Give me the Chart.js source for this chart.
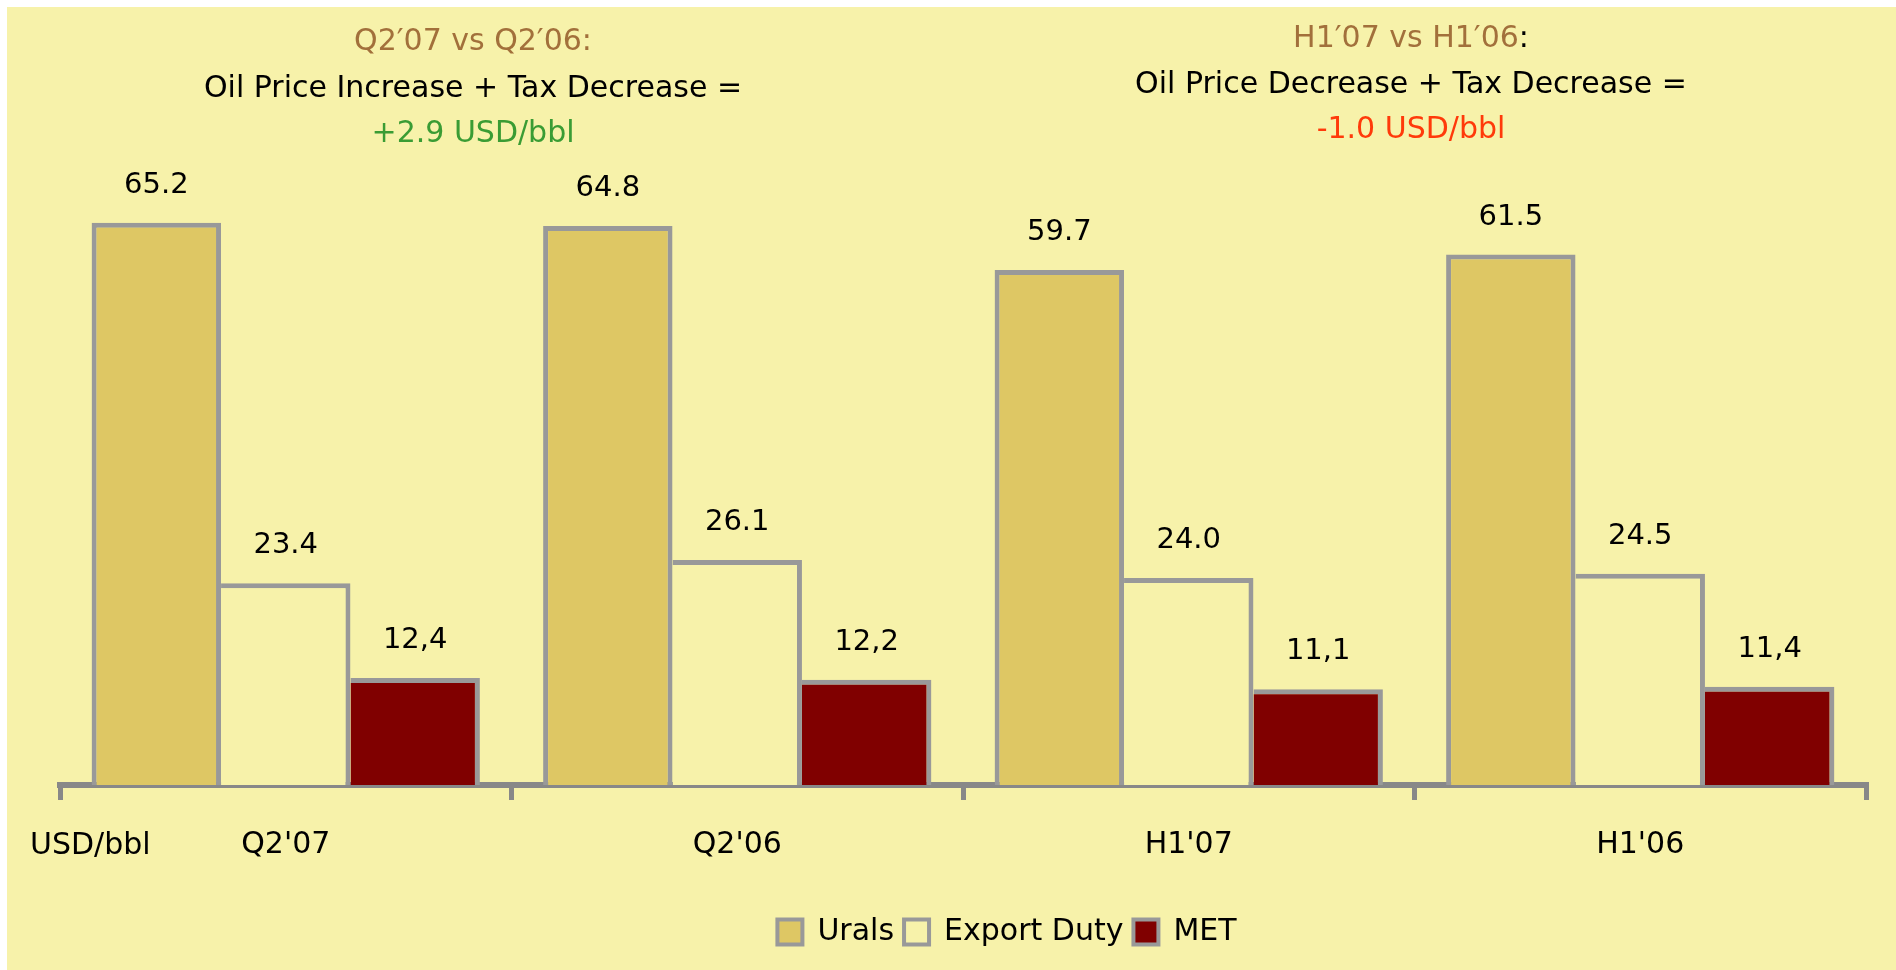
<!DOCTYPE html>
<html>
<head>
<meta charset="utf-8">
<script src="https://cdn.jsdelivr.net/npm/chart.js@4.4.1/dist/chart.umd.min.js"></script>
<style>
  html, body { margin: 0; padding: 0; background: #fff; }
  #panel { position: absolute; left: 7px; top: 7px; width: 1889px; height: 963px; background: #f7f2aa; }
</style>
</head>
<body>
<div id="panel"><canvas id="taxChart"></canvas></div>
<script>
const periods = ["Q2'07", "Q2'06", "H1'07", "H1'06"];
const uralsPrice = [65.2, 64.8, 59.7, 61.5];
const exportDuty = [23.4, 26.1, 24.0, 24.5];
const metTax = [12.4, 12.2, 11.1, 11.4];
const decimalMarks = ['.', '.', ','];

const headerLeft = ['Q2′07 vs Q2′06:', 'Oil Price Increase + Tax Decrease =', '+2.9 USD/bbl'];
const headerRight = ['H1′07 vs H1′06', 'Oil Price Decrease + Tax Decrease =', '-1.0 USD/bbl'];
const unitLabel = 'USD/bbl';

const panelColor = '#f7f2aa';
const edgeColor = '#999999';
const axisColor = '#888888';
const fontFamily = '"DejaVu Sans", sans-serif';

Chart.defaults.font.family = fontFamily;
Chart.defaults.color = '#000';

// headers, unit text and value labels
const textPlugin = {
  id: 'texts',
  afterDatasetsDraw(chart) {
    const { ctx } = chart;
    ctx.save();
    ctx.fillStyle = '#000';
    ctx.textAlign = 'center';
    ctx.textBaseline = 'alphabetic';
    ctx.font = `29px ${fontFamily}`;
    chart.data.datasets.forEach((ds, i) => {
      chart.getDatasetMeta(i).data.forEach((bar, j) => {
        const txt = ds.data[j].toFixed(1).replace('.', decimalMarks[i]);
        ctx.fillText(txt, bar.x, bar.y - 30);
      });
    });
    ctx.restore();
  },
  afterDraw(chart) {
    const { ctx } = chart;
    ctx.save();
    ctx.textBaseline = 'alphabetic';
    ctx.font = `30px ${fontFamily}`;

    // left block
    ctx.textAlign = 'center';
    ctx.fillStyle = '#a2703b';
    ctx.fillText(headerLeft[0], 466, 43);
    ctx.fillStyle = '#000';
    ctx.fillText(headerLeft[1], 466, 90);
    ctx.fillStyle = '#3a9c34';
    ctx.fillText(headerLeft[2], 466, 135);

    // right block, colon in black
    const w1 = ctx.measureText(headerRight[0] + ':').width;
    ctx.textAlign = 'left';
    ctx.fillStyle = '#a2703b';
    ctx.fillText(headerRight[0], 1404 - w1 / 2, 40);
    ctx.fillStyle = '#000';
    ctx.fillText(':', 1404 - w1 / 2 + ctx.measureText(headerRight[0]).width, 40);
    ctx.textAlign = 'center';
    ctx.fillText(headerRight[1], 1404, 86);
    ctx.fillStyle = '#ff3a0a';
    ctx.fillText(headerRight[2], 1404, 131);

    // unit under the axis
    ctx.textAlign = 'left';
    ctx.fillStyle = '#000';
    ctx.fillText(unitLabel, 23, 847);
    ctx.restore();
  },
  afterLayout(chart) {
    chart.legend.left += 44;
    chart.legend.right += 44;
  }
};

new Chart(document.getElementById('taxChart'), {
  type: 'bar',
  data: {
    labels: periods,
    datasets: [
      { label: 'Urals', data: uralsPrice, backgroundColor: '#dec764', borderColor: edgeColor, borderWidth: { top: 5, left: 5, right: 5, bottom: 0 } },
      { label: 'Export Duty', data: exportDuty, backgroundColor: panelColor, borderColor: edgeColor, borderWidth: { top: 5, left: 0, right: 5, bottom: 0 } },
      { label: 'MET', data: metTax, backgroundColor: '#800000', borderColor: edgeColor, borderWidth: { top: 5, left: 0, right: 5, bottom: 0 } },
    ],
  },
  options: {
    responsive: true,
    maintainAspectRatio: false,
    animation: false,
    datasets: { bar: { categoryPercentage: 0.86, barPercentage: 1 } },
    layout: { padding: { left: 53, right: 30, top: 88, bottom: 13 } },
    plugins: {
      tooltip: { enabled: false },
      legend: {
        position: 'bottom',
        labels: {
          boxWidth: 25,
          boxHeight: 25,
          padding: 10,
          color: '#000',
          font: { size: 30, family: fontFamily },
          generateLabels(chart) {
            return Chart.defaults.plugins.legend.labels.generateLabels(chart).map((item) => ({ ...item, lineWidth: 4 }));
          },
        },
      },
    },
    scales: {
      x: {
        grid: { drawOnChartArea: false, tickLength: 15, lineWidth: 5, color: axisColor, offset: true },
        border: { color: axisColor, width: 6 },
        ticks: { color: '#000', font: { size: 30, family: fontFamily }, padding: 27 },
        afterFit(scale) { scale.height = 122; },
      },
      y: { display: false, min: 0, max: 80 },
    },
  },
  plugins: [textPlugin],
});
</script>
</body>
</html>
